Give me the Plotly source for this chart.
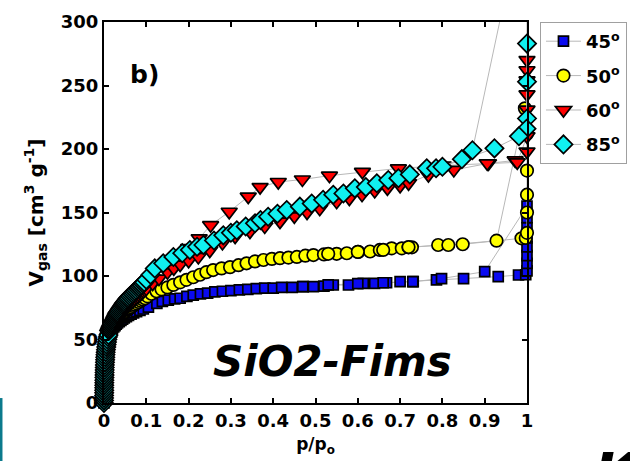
import plotly.graph_objects as go

# ---- data ----
# low-pressure region, shared by the four isotherms (they coincide there)
P_LOW = [0.0000, 0.0001, 0.0002, 0.0003, 0.0004, 0.0005, 0.0006, 0.0007, 0.0008, 0.0009,
         0.0010, 0.0012, 0.0014, 0.0016, 0.0018, 0.0020, 0.0023, 0.0026, 0.0030, 0.0035,
         0.0040, 0.0046, 0.0053, 0.0060, 0.0070, 0.0080, 0.0092, 0.0105]
V_LOW = [0, 2, 4, 6, 8, 10, 12, 14, 16, 18,
         20, 22, 24, 26, 28, 30, 32, 34, 36, 38,
         40, 42, 44, 46, 48, 50, 52, 53.5]

P45 = [0.012, 0.014, 0.016, 0.018, 0.02, 0.023, 0.026, 0.029, 0.032, 0.036, 0.04, 0.044,
       0.048, 0.053, 0.058, 0.064, 0.07, 0.077, 0.085, 0.093,
       0.105, 0.125, 0.138, 0.152, 0.167, 0.18, 0.196, 0.211, 0.228, 0.245, 0.262,
       0.28, 0.3, 0.32, 0.34, 0.36, 0.38, 0.4, 0.42, 0.445, 0.471, 0.495, 0.52, 0.542,
       0.578, 0.613, 0.64, 0.668, 0.7, 0.731, 0.786, 0.85, 0.932, 0.98, 0.997,
       1.0, 1.0, 1.0, 1.0, 1.0, 1.0, 1.0, 1.0,
       0.9, 0.798, 0.73, 0.66, 0.6, 0.53, 0.47]
V45 = [55, 56, 57, 58, 59, 60, 61, 62, 63, 64, 65, 66,
       67, 68, 69, 70, 71, 72, 73, 74,
       75.5, 78.5, 80, 81, 82, 82.5, 84, 85, 86, 86.5, 87.5,
       88, 88.5, 89, 89.5, 90, 90.5, 90.5, 91, 91, 91.6, 91.6, 92, 92.9,
       92.9, 94.2, 94.2, 94.7, 95.5, 95.5, 96.9, 98, 99.5, 100.8, 101,
       104, 110, 116, 123, 130, 138, 146, 155,
       103.4, 98, 95.5, 94.7, 94, 93, 91.6]

P50 = [0.012, 0.0137, 0.0153, 0.017, 0.019, 0.021, 0.023, 0.025, 0.027, 0.0295, 0.032,
       0.0345, 0.037, 0.04, 0.043, 0.046, 0.049, 0.052, 0.056, 0.06, 0.064, 0.068, 0.072,
       0.077, 0.082, 0.087, 0.092, 0.097,
       0.103, 0.112, 0.124, 0.136, 0.15, 0.164, 0.18, 0.195, 0.211, 0.227, 0.242, 0.258,
       0.278, 0.298, 0.318, 0.337, 0.357, 0.377, 0.397, 0.416, 0.436, 0.456, 0.476, 0.495,
       0.52, 0.55, 0.574, 0.601, 0.629, 0.652, 0.68, 0.704, 0.72, 0.728, 0.79, 0.848,
       0.987, 0.997, 1.0, 1.0, 1.0, 1.0, 1.0, 0.995,
       0.928, 0.814, 0.72, 0.66, 0.6, 0.53]
V50 = [55.5, 56.5, 57.5, 58.5, 59.5, 60.5, 61.5, 62.5, 63.5, 64.5, 65.5,
       66.5, 67.5, 68.5, 69.5, 70.5, 71.5, 72.5, 73.5, 74.5, 75.5, 76.5, 77.5,
       78.5, 79.5, 80.5, 81.5, 82.5,
       84, 86, 88, 89.5, 91, 93, 95, 97, 99, 101, 103, 104.7,
       106, 107, 108.5, 110, 111.5, 112.6, 113.5, 114, 114.5, 115, 116, 116.5,
       117, 117.5, 117.9, 119, 119.3, 120.5, 121.8, 121.8, 122.6, 122.6, 124.4, 125,
       129.7, 130, 134, 150, 164, 183, 212, 232,
       127.8, 124.4, 122.8, 120.5, 119, 117.5]

P60 = [0.012, 0.0135, 0.015, 0.0165, 0.018, 0.02, 0.022, 0.024, 0.026, 0.028, 0.03, 0.032,
       0.034, 0.0365, 0.039, 0.0415, 0.044, 0.0465, 0.049, 0.052, 0.055, 0.058, 0.061,
       0.064, 0.067, 0.07, 0.073, 0.0765, 0.08, 0.0835, 0.087, 0.09, 0.093, 0.0965,
       0.1, 0.115, 0.13, 0.15, 0.165, 0.18, 0.2, 0.223, 0.25, 0.28, 0.31, 0.345, 0.38,
       0.416, 0.45, 0.48, 0.51, 0.55, 0.58, 0.61, 0.64, 0.67, 0.7, 0.72, 0.767, 0.827,
       0.909, 0.972, 1.0, 1.0, 1.0, 1.0, 1.0,
       1.0, 1.0, 0.977, 0.906, 0.802, 0.696, 0.611, 0.533, 0.469, 0.412, 0.369, 0.341,
       0.296, 0.252, 0.225, 0.2]
V60 = [56, 57, 58, 59, 60, 61, 62, 63, 64, 65, 66, 67,
       68, 69, 70, 71, 72, 73, 74, 75, 76, 77, 78,
       79, 80, 81, 82, 83, 84, 85, 86, 87, 88, 89,
       90, 94, 98, 103, 106, 109, 112, 115, 120, 126, 131, 135, 139,
       142.8, 147, 150, 153, 158.5, 161, 164, 167, 169, 171, 173, 179.5, 183.5,
       188.7, 191, 198, 231, 254, 262, 270,
       243, 210, 189.5, 188.7, 187, 184.7, 182, 179, 176, 174, 170, 162.5,
       150.6, 140, 129.7, 122]

P85 = [0.012, 0.0133, 0.0147, 0.016, 0.0173, 0.0187, 0.02, 0.0215, 0.023, 0.0245, 0.026,
       0.0275, 0.029, 0.0305, 0.032, 0.034, 0.036, 0.038, 0.04, 0.042, 0.044, 0.046, 0.048,
       0.0505, 0.053, 0.0555, 0.058, 0.061, 0.064, 0.067, 0.07, 0.073, 0.076, 0.08, 0.083,
       0.086, 0.089, 0.092, 0.095,
       0.1, 0.11, 0.12, 0.14, 0.164, 0.185, 0.203, 0.22, 0.235,
       0.26, 0.282, 0.3, 0.314, 0.335, 0.357, 0.37, 0.388, 0.41, 0.432, 0.463, 0.491,
       0.518, 0.542, 0.566, 0.593, 0.619, 0.645, 0.672, 0.696, 0.723, 0.763, 0.785,
       0.846, 0.871, 0.999, 1.0, 1.0, 1.0, 0.999, 0.981, 0.923, 0.8]
V85 = [57, 58, 59, 60, 61, 62, 63, 64, 65, 66, 67,
       68, 69, 70, 71, 72, 73, 74, 75, 76, 77, 78, 79,
       80, 81, 82, 83, 84, 85, 86, 87, 88, 89, 90, 91,
       92, 93, 94, 95,
       97, 101, 106, 110, 115, 118, 120.5, 123, 124.4,
       128, 132, 134, 136, 139, 141.5, 144, 146.7, 149, 152, 154.6, 157,
       160, 164, 165, 169, 170, 173, 175.6, 177, 180, 184.8, 184.8,
       192, 199, 400, 283, 253, 224, 216, 210, 200.5, 186]

LABELS = ["45<sup>o</sup>", "50<sup>o</sup>", "60<sup>o</sup>", "85<sup>o</sup>"]
X_TICKS = [0, 0.1, 0.2, 0.3, 0.4, 0.5, 0.6, 0.7, 0.8, 0.9, 1]
X_TICKTEXT = ["0", "0.1", "0.2", "0.3", "0.4", "0.5", "0.6", "0.7", "0.8", "0.9", "1"]
Y_TICKS = [0, 50, 100, 150, 200, 250, 300]

SERIES = [
    (P45, V45, "square", "#0a0af0", 10),
    (P50, V50, "circle", "#ffff00", 12.5),
    (P60, V60, "triangle-down", "#ff0000", 14),
    (P85, V85, "diamond", "#10f0f0", 14),
]

FONT = "DejaVu Sans"

fig = go.Figure()
for (px, vy, sym, col, sz), lab in zip(SERIES, LABELS):
    fig.add_trace(go.Scatter(
        x=P_LOW + px, y=V_LOW + vy, mode="lines+markers", name=lab,
        legendgroup=lab,
        line=dict(color="#b8b8b8", width=1),
        marker=dict(symbol=sym, size=sz, color=col, line=dict(color="black", width=1.7)),
        cliponaxis=False,
    ))

axis_common = dict(
    showline=True, linecolor="black", linewidth=2, mirror="ticks",
    ticks="inside", ticklen=5, tickwidth=1.5, tickcolor="black",
    showgrid=False, zeroline=False, automargin=False,
    tickfont=dict(family=FONT, size=18, color="black", weight="bold"),
)

fig.update_xaxes(range=[0, 1], tickvals=X_TICKS, ticktext=X_TICKTEXT,
                 title=dict(text="p/p<sub>o</sub>", standoff=9,
                            font=dict(family=FONT, size=17, color="black", weight="bold")),
                 **axis_common)
fig.update_yaxes(range=[0, 300], tickvals=Y_TICKS,
                 title=dict(text="V<sub>gas</sub> [cm<sup>3</sup> g<sup>-1</sup>]", standoff=12,
                            font=dict(family=FONT, size=20, color="black", weight="bold")),
                 **axis_common)

fig.add_annotation(x=0.057, y=259, xref="x", yref="y", text="b)", showarrow=False,
                   xanchor="left", yanchor="middle",
                   font=dict(family=FONT, size=25, color="black", weight="bold"))
fig.add_annotation(x=0.539, y=33, xref="x", yref="y", text="SiO2-Fims", showarrow=False,
                   xanchor="center", yanchor="middle",
                   font=dict(family=FONT, size=42, color="black", weight="bold", style="italic"))
fig.add_annotation(x=1.153, y=-0.092, xref="paper", yref="paper", text="K", showarrow=False,
                   xanchor="left", yanchor="top",
                   font=dict(family=FONT, size=56, color="black", weight="bold", style="italic"))

fig.add_shape(type="rect", xref="paper", yref="paper", x0=-0.247, x1=-0.240, y0=-0.16, y1=0.013,
              line=dict(width=0), fillcolor="#0b7a8c")

fig.update_layout(
    width=630, height=461,
    margin=dict(l=104, r=103, t=22, b=58, autoexpand=False),
    paper_bgcolor="white", plot_bgcolor="white",
    showlegend=True,
    legend=dict(xref="container", yref="container", x=0.9952, y=0.9523,
                xanchor="right", yanchor="top", itemwidth=35,
                bordercolor="#a0a0a0", borderwidth=1, bgcolor="white",
                font=dict(family=FONT, size=18, color="black", weight="bold"),
                tracegroupgap=8, traceorder="grouped"),
)

fig.write_html("out.html")
